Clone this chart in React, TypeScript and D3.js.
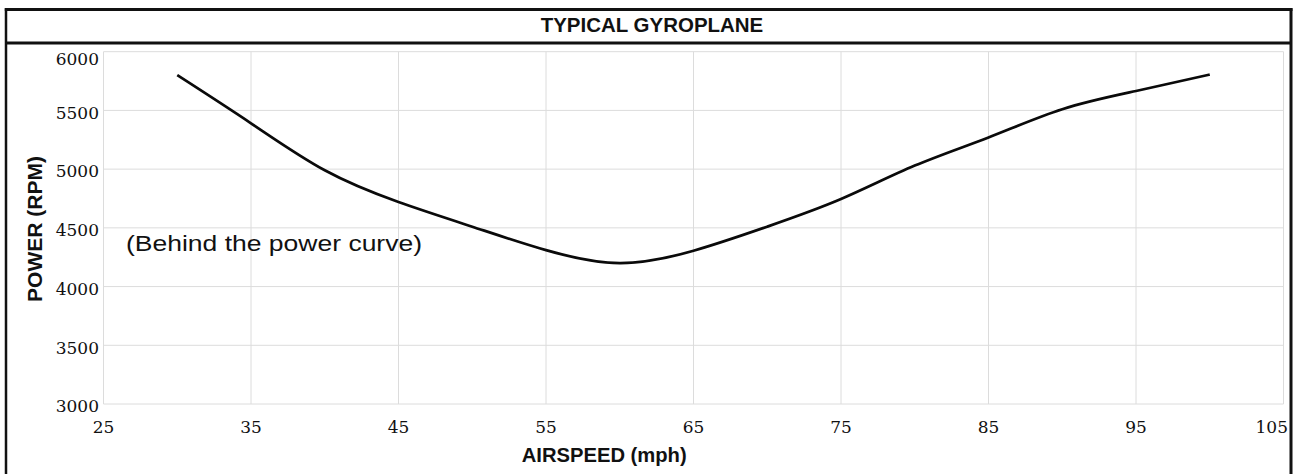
import React from "react";
import * as d3 from "d3";

const airspeed = [30, 35, 40, 45, 50, 55, 60, 65, 70, 75, 80, 85, 90, 95, 100];
const rpm = [5800, 5390, 4990, 4720, 4510, 4310, 4200, 4305, 4510, 4745, 5030, 5270, 5510, 5665, 5805];
const xTicks = [25, 35, 45, 55, 65, 75, 85, 95, 105];
const yTicks = [3000, 3500, 4000, 4500, 5000, 5500, 6000];
const title = "TYPICAL GYROPLANE";
const xTitle = "AIRSPEED (mph)";
const yTitle = "POWER (RPM)";
const note = "(Behind the power curve)";

export default function App() {
  const W = 1293, H = 474;
  const left = 103.5, right = 1283.5, top = 51.7, bottom = 404;
  const x = d3.scaleLinear().domain([25, 105]).range([left, right]);
  const y = d3.scaleLinear().domain([3000, 6000]).range([bottom, top]);
  const pts: [number, number][] = airspeed.map((a, i) => [a, rpm[i]]);
  const line = d3
    .line<[number, number]>()
    .x((d) => x(d[0]))
    .y((d) => y(d[1]))
    .curve(d3.curveNatural);
  const sans = "'Liberation Sans', Arial, sans-serif";
  const serif = "'DejaVu Serif', serif";
  return (
    <svg width={W} height={H} style={{ display: "block", position: "absolute", left: 0, top: 0 }}>
      <style>{`body{margin:0}`}</style>
      <rect x={0} y={0} width={W} height={H} fill="#fff" />
      {/* grid */}
      {xTicks.map((t) => (
        <line key={"gx" + t} x1={x(t)} x2={x(t)} y1={top} y2={bottom} stroke="#dcdcdc" strokeWidth={1} />
      ))}
      {yTicks.map((t) => (
        <line key={"gy" + t} x1={left} x2={right} y1={y(t)} y2={y(t)} stroke="#dcdcdc" strokeWidth={1} />
      ))}
      {/* tick labels */}
      {yTicks.map((t, i) => (
        <text
          key={"ty" + t}
          x={99}
          y={i === yTicks.length - 1 ? y(t) + 12.8 : y(t) + 8.3}
          textAnchor="end"
          fontFamily={serif}
          fontSize={17}
          fill="#111"
        >
          {t}
        </text>
      ))}
      {xTicks.map((t, i) => (
        <text
          key={"tx" + t}
          x={i === xTicks.length - 1 ? 1288 : x(t)}
          y={433}
          textAnchor={i === xTicks.length - 1 ? "end" : "middle"}
          fontFamily={serif}
          fontSize={17}
          fill="#111"
        >
          {t}
        </text>
      ))}
      {/* curve */}
      <path d={line(pts) || ""} fill="none" stroke="#0a0a0a" strokeWidth={2.7} strokeLinecap="butt" />
      {/* annotation */}
      <text x={126} y={250.5} fontFamily={sans} fontSize={22} textLength={296} lengthAdjust="spacingAndGlyphs" fill="#111">
        {note}
      </text>
      {/* axis titles */}
      <text x={521.7} y={461.7} fontFamily={sans} fontWeight="bold" fontSize={21} textLength={165} lengthAdjust="spacingAndGlyphs" fill="#111">
        {xTitle}
      </text>
      <text
        transform={`translate(41.5,${229}) rotate(-90)`}
        textAnchor="middle"
        fontFamily={sans}
        fontWeight="bold"
        fontSize={21}
        fill="#111"
      >
        {yTitle}
      </text>
      {/* frame */}
      <line x1={6} x2={6} y1={8.2} y2={H} stroke="#111" strokeWidth={2.5} />
      <line x1={1291} x2={1291} y1={8.2} y2={H} stroke="#111" strokeWidth={3} />
      <line x1={4.8} x2={1292.5} y1={9.5} y2={9.5} stroke="#111" strokeWidth={3} />
      <line x1={6} x2={1291} y1={43} y2={43} stroke="#111" strokeWidth={3} />
      <text x={540.7} y={32} fontFamily={sans} fontWeight="bold" fontSize={20} textLength={222.6} lengthAdjust="spacingAndGlyphs" fill="#111">
        {title}
      </text>
    </svg>
  );
}
